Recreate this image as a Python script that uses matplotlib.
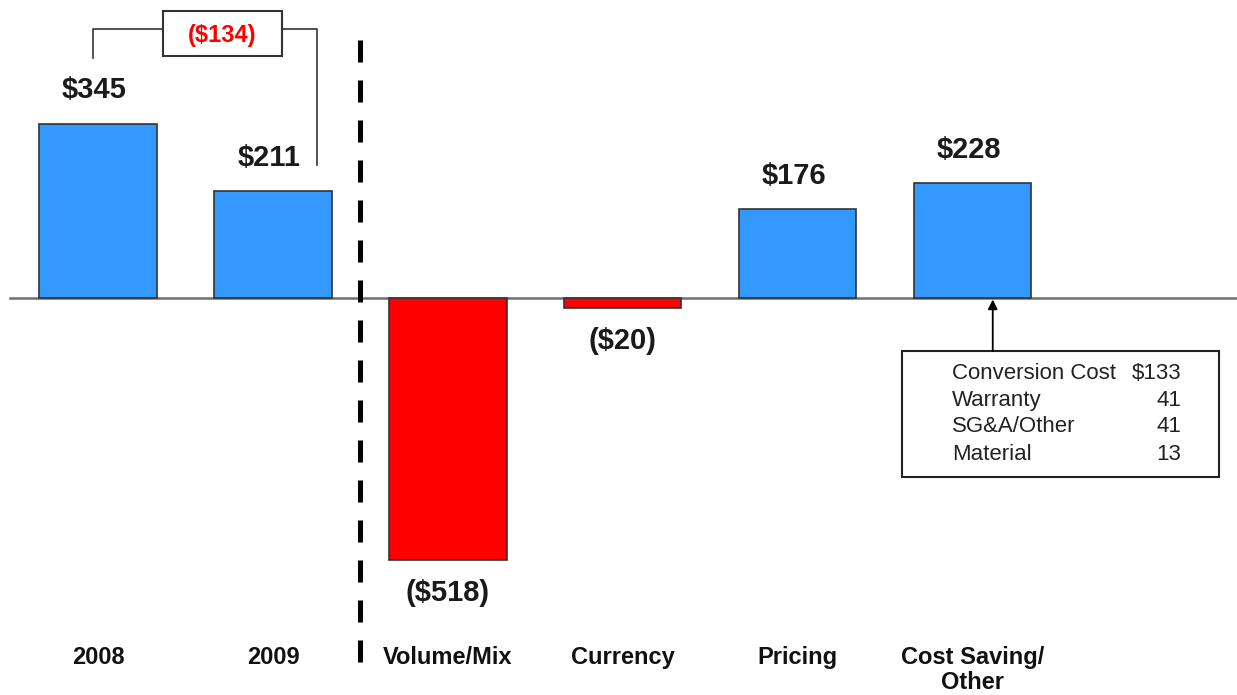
import matplotlib
matplotlib.use('Agg')
import matplotlib.pyplot as plt
from matplotlib import font_manager
from matplotlib.patches import Rectangle

# Chart data
categories = ['2008', '2009', 'Volume/Mix', 'Currency', 'Pricing', 'Cost Saving/\nOther']
values = [345, 211, -518, -20, 176, 228]
value_labels = ['$345', '$211', '($518)', '($20)', '$176', '$228']
change_label = '($134)'
breakdown_items = ['Conversion Cost', 'Warranty', 'SG&A/Other', 'Material']
breakdown_values = ['$133', '41', '41', '13']

# Fonts: use a narrow face for the category labels if it is there
names = {f.name for f in font_manager.fontManager.ttflist}
narrow = 'Liberation Sans Narrow' if 'Liberation Sans Narrow' in names else 'Liberation Sans'
plt.rcParams['font.family'] = ['Liberation Sans', 'DejaVu Sans']

fig = plt.figure(figsize=(12.37, 6.95), dpi=100)
ax = fig.add_axes([0, 0, 1, 1])
ax.set_xlim(-0.56, 6.51)
ax.set_ylim(-786, 590)
ax.axis('off')

x = list(range(len(categories)))
colors = ['#3399FF' if v > 0 else '#FF0000' for v in values]
ax.bar(x, values, width=0.67, color=colors, edgecolor='#333333', linewidth=1.2, zorder=3)

# Baseline
ax.axhline(0, xmin=0.008, xmax=1, color='#707070', linewidth=1.8, zorder=2)

# Value labels
for xi, v, lab in zip(x, values, value_labels):
    off = 24 if v > 0 else -24
    ax.annotate(lab, (xi, v), xytext=(-3 if v > 0 else 0, off), textcoords='offset points',
                ha='center', va='center', fontsize=21, fontweight='bold', color='#1a1a1a')

# Category labels
for xi, c in zip(x, categories):
    ax.text(xi, -688, c, ha='center', va='top', fontsize=17, fontweight='bold',
            family=[narrow, 'DejaVu Sans'], linespacing=1.12, color='#111111')

# Dashed separator
ax.plot([1.5, 1.5], [511, -733], color='black', linewidth=3.6, dashes=(4.4, 3.6), zorder=4)

# Bracket showing change between 2008 and 2009
ax.plot([-0.03, -0.03, 0.37], [475, 533, 533], color='#333333', linewidth=1.2)
ax.plot([1.05, 1.25, 1.25], [533, 533, 263], color='#333333', linewidth=1.2)
ax.add_patch(Rectangle((0.37, 479), 0.68, 89, facecolor='white', edgecolor='#333333', linewidth=1.5))
ax.text(0.71, 520, change_label, ha='center', va='center', fontsize=17, fontweight='bold', color='#FF0000')

# Cost saving breakdown box
ax.add_patch(Rectangle((4.594, -354), 1.812, 249, facecolor='white', edgecolor='#222222', linewidth=1.5))
ax.annotate('', xy=(5.114, -3), xytext=(5.114, -105),
            arrowprops=dict(arrowstyle='-|>', color='black', lw=1.3, mutation_scale=14, shrinkA=0, shrinkB=0))
row_y = [-150, -202, -255, -309]
for yy, item, val in zip(row_y, breakdown_items, breakdown_values):
    ax.text(4.88, yy, item, ha='left', va='center', fontsize=16, color='#222222')
    ax.text(6.19, yy, val, ha='right', va='center', fontsize=16, color='#222222')

fig.savefig('out.png', dpi=100)
